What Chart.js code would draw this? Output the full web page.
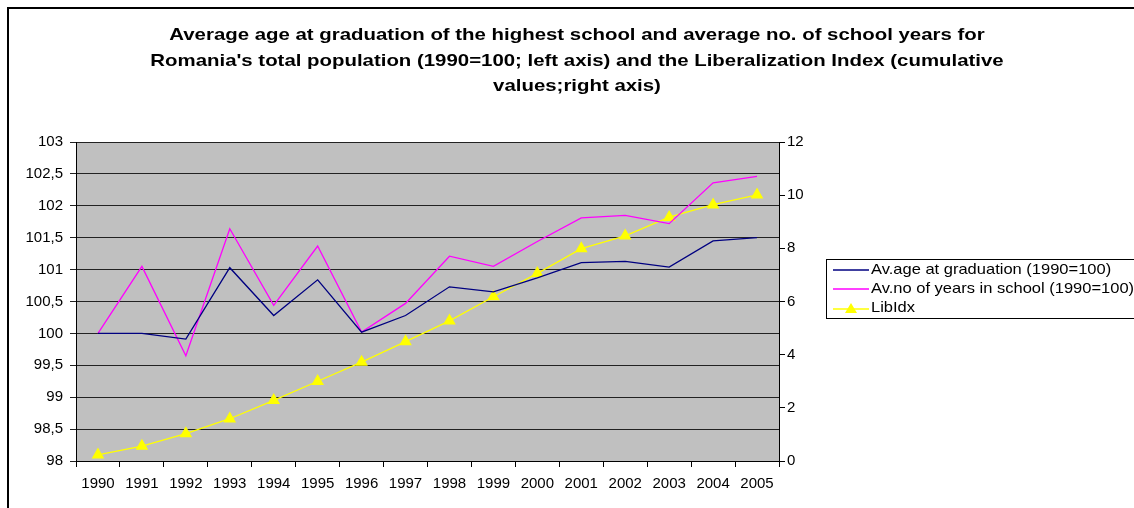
<!DOCTYPE html>
<html>
<head>
<meta charset="utf-8">
<script src="https://cdn.jsdelivr.net/npm/chart.js@4"></script>
<style>
    body { margin: 0; background: #fff; font-family: "Liberation Sans", Arial, sans-serif; }
    #wrap { position: relative; width: 1134px; height: 508px; overflow: hidden; }
    #frame { position: absolute; left: 7px; top: 7px; width: 1200px; height: 600px;
             border-left: 2px solid #000; border-top: 2px solid #000; pointer-events: none; }
    #title { position: absolute; left: 77px; top: 22px; width: 1000px; text-align: center;
             font-size: 17px; font-weight: bold; line-height: 25.5px; color: #000;
             transform: scaleX(1.2); transform-origin: 500px 0; }
    #legend { position: absolute; left: 826px; top: 259px; width: 330px; height: 58px;
              border: 1px solid #000; background: #fff; font-size: 15px; color: #000; }
    .item { position: absolute; left: 6px; height: 18px; line-height: 18px; white-space: nowrap; }
    .item svg { vertical-align: middle; margin-right: 2px; }
    .item span { display: inline-block; transform: scaleX(1.1); transform-origin: 0 50%; }
</style>
</head>
<body>
<div id="wrap">
    <canvas id="chart" width="1134" height="508"></canvas>
    <div id="frame"></div>
    <div id="title"></div>
    <div id="legend">
        <div class="item" style="top:0px"><svg width="36" height="10"><line x1="0" y1="5" x2="36" y2="5" stroke="#000080" stroke-width="1.5"/></svg><span>Av.age at graduation (1990=100)</span></div>
        <div class="item" style="top:19px"><svg width="36" height="10"><line x1="0" y1="5" x2="36" y2="5" stroke="#ff00ff" stroke-width="1.5"/></svg><span>Av.no of years in school (1990=100)</span></div>
        <div class="item" style="top:38px"><svg width="36" height="12"><line x1="0" y1="7" x2="36" y2="7" stroke="#ffff00" stroke-width="1.5"/><polygon points="18,1 24,11 12,11" fill="#ffff00"/></svg><span>LibIdx</span></div>
    </div>
</div>
<script>
const years = ["1990", "1991", "1992", "1993", "1994", "1995", "1996", "1997",
               "1998", "1999", "2000", "2001", "2002", "2003", "2004", "2005"];
const avAge = [100, 100, 99.91, 101.03, 100.28, 100.84, 100.02, 100.28,
               100.73, 100.65, 100.87, 101.11, 101.13, 101.04, 101.45, 101.5];
const avYears = [100, 101.05, 99.65, 101.64, 100.44, 101.37, 100.02, 100.47,
                 101.21, 101.05, 101.44, 101.81, 101.85, 101.72, 102.36, 102.46];
const libIdx = [0.23, 0.56, 1.03, 1.59, 2.28, 3.0, 3.72, 4.49,
                5.27, 6.18, 7.06, 7.99, 8.47, 9.17, 9.64, 10.01];

const titleLines = [
    "Average age at graduation of the highest school and average no. of school years for",
    "Romania's total population (1990=100; left axis) and the Liberalization Index (cumulative",
    "values;right axis)"
];

const FONT = "'Liberation Sans', Arial, sans-serif";

document.getElementById("title").innerHTML = titleLines.join("<br>");

// grey plot background
const plotBg = {
    id: "plotBg",
    beforeDraw(chart) {
        let a = chart.chartArea;
        let ctx = chart.ctx;
        ctx.save();
        ctx.fillStyle = "#c0c0c0";
        ctx.fillRect(a.left, a.top, a.right - a.left, a.bottom - a.top);
        ctx.restore();
    }
};

let ctx = document.getElementById("chart").getContext("2d");
new Chart(ctx, {
    type: "line",
    data: {
        labels: years,
        datasets: [{
            label: "Av.age at graduation (1990=100)",
            data: avAge,
            yAxisID: "y",
            borderColor: "#000080",
            borderWidth: 1.3,
            pointRadius: 0,
            tension: 0
        }, {
            label: "Av.no of years in school (1990=100)",
            data: avYears,
            yAxisID: "y",
            borderColor: "#ff00ff",
            borderWidth: 1.3,
            pointRadius: 0,
            tension: 0
        }, {
            label: "LibIdx",
            data: libIdx,
            yAxisID: "y2",
            borderColor: "#ffff00",
            backgroundColor: "#ffff00",
            borderWidth: 1.3,
            pointStyle: "triangle",
            pointRadius: 6,
            tension: 0
        }]
    },
    options: {
        responsive: false,
        animation: false,
        layout: { padding: { left: 0, right: 0, top: 142, bottom: 0 } },
        plugins: {
            legend: { display: false },
            tooltip: { enabled: false },
            title: { display: false }
        },
        scales: {
            x: {
                offset: true,
                grid: { offset: true, drawOnChartArea: false, color: "#000", tickLength: 6 },
                border: { color: "#000", width: 1 },
                ticks: { color: "#000", font: { family: FONT, size: 15 }, padding: 8, maxRotation: 0, autoSkip: false },
                afterFit(s) { s.height = 47; }
            },
            y: {
                position: "left",
                min: 98,
                max: 103,
                ticks: {
                    stepSize: 0.5,
                    color: "#000",
                    font: { family: FONT, size: 15 },
                    padding: 7,
                    callback: v => String(v).replace(".", ",")
                },
                grid: { color: "#222", lineWidth: 1, tickLength: 6 },
                border: { color: "#000", width: 1 },
                afterFit(s) { s.width = 76; }
            },
            y2: {
                position: "right",
                min: 0,
                max: 12,
                ticks: { stepSize: 2, color: "#000", font: { family: FONT, size: 15 }, padding: 2 },
                grid: { drawOnChartArea: false, color: "#000", tickLength: 6 },
                border: { color: "#000", width: 1 },
                afterFit(s) { s.width = 355; }
            }
        }
    },
    plugins: [plotBg]
});
</script>
</body>
</html>
